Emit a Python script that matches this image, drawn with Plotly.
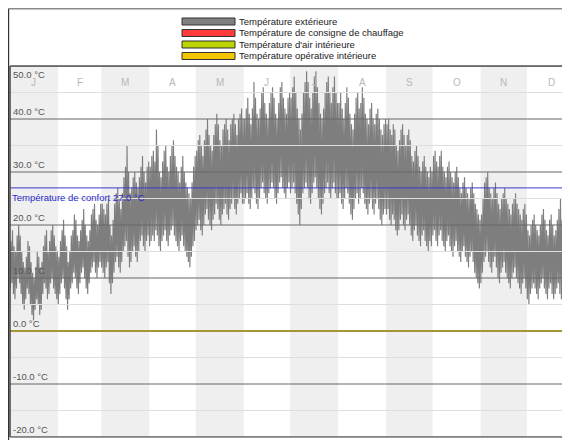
import plotly.graph_objects as go

# ---------------- data ----------------
months = ["J", "F", "M", "A", "M", "J", "J", "A", "S", "O", "N", "D"]
month_days = [31, 28, 31, 30, 31, 30, 31, 31, 30, 31, 30, 31]

legend_names = ["Température extérieure", "Température de consigne de chauffage",
                "Température d'air intérieure", "Température opérative intérieure"]
legend_colors = ["#808080", "#ff3b3b", "#bcd400", "#f5c400"]

y_ticks = [50, 40, 30, 20, 10, 0, -10, -20]
y_minor = [45, 35, 25, 15, 5, -5, -15]
comfort_temp = 27.0

# daily minimum / maximum outdoor temperature, month by month
tmin_months = [
    [8, 9, 7, 6, 8, 10, 9, 7, 5, 4, 6, 8, 7, 5, 3, 2, 4, 6, 5, 3, 4, 7, 9, 8, 6, 7, 9, 10, 8, 7, 6],
    [5, 7, 9, 10, 8, 6, 4, 6, 8, 9, 11, 10, 8, 7, 9, 11, 12, 10, 8, 7, 9, 11, 12, 13, 11, 10, 12, 13],
    [12, 11, 10, 12, 13, 9, 7, 9, 11, 13, 14, 12, 11, 13, 15, 16, 17, 14, 12, 13, 15, 16, 14, 13, 15, 17, 18, 16, 15, 17, 18],
    [16, 17, 18, 17, 19, 18, 16, 15, 17, 18, 19, 17, 16, 18, 19, 20, 18, 17, 16, 15, 17, 18, 16, 15, 14, 13, 12, 14, 16, 17],
    [19, 20, 21, 19, 18, 20, 22, 23, 21, 20, 19, 21, 22, 24, 23, 21, 20, 22, 23, 24, 22, 21, 23, 24, 25, 23, 22, 24, 25, 26, 24],
    [24, 25, 26, 24, 23, 25, 27, 26, 24, 23, 25, 27, 28, 26, 25, 24, 26, 27, 28, 27, 25, 24, 26, 28, 29, 27, 26, 25, 27, 28],
    [26, 27, 28, 26, 24, 22, 20, 23, 26, 27, 28, 27, 25, 24, 26, 28, 29, 27, 25, 23, 22, 24, 26, 27, 28, 26, 25, 27, 28, 26, 25],
    [25, 26, 24, 23, 25, 27, 26, 24, 22, 21, 23, 25, 26, 24, 25, 27, 26, 24, 23, 22, 24, 25, 23, 22, 24, 25, 23, 21, 20, 22, 23],
    [22, 23, 21, 20, 22, 21, 19, 18, 19, 21, 22, 20, 19, 21, 22, 20, 18, 17, 19, 20, 18, 17, 16, 18, 19, 17, 16, 15, 17, 16],
    [18, 19, 17, 16, 18, 19, 17, 16, 15, 17, 18, 16, 15, 14, 16, 17, 15, 14, 13, 15, 16, 14, 13, 12, 14, 15, 13, 11, 10, 9, 8],
    [9, 11, 13, 14, 15, 13, 12, 11, 13, 14, 12, 10, 9, 11, 12, 13, 11, 10, 9, 8, 10, 11, 12, 10, 9, 8, 7, 9, 10, 8],
    [6, 5, 7, 8, 9, 8, 7, 6, 8, 9, 10, 8, 7, 6, 8, 9, 7, 6, 7, 8, 9, 7, 6, 5, 4, 3, 5, 6, 7, 6, 5],
]
tmax_months = [
    [17, 19, 16, 15, 18, 20, 18, 15, 13, 12, 14, 17, 16, 13, 11, 10, 12, 15, 14, 12, 13, 16, 18, 19, 15, 17, 19, 20, 18, 16, 15],
    [14, 17, 19, 21, 18, 16, 13, 15, 18, 19, 22, 21, 18, 17, 19, 21, 23, 20, 18, 17, 19, 22, 23, 24, 21, 20, 22, 24],
    [24, 23, 22, 24, 25, 20, 18, 21, 24, 26, 27, 25, 23, 26, 29, 31, 35, 30, 26, 27, 29, 30, 28, 27, 29, 31, 33, 30, 28, 31, 32],
    [31, 33, 34, 32, 38, 35, 30, 29, 32, 34, 35, 31, 30, 33, 35, 36, 33, 31, 30, 28, 31, 33, 30, 28, 27, 26, 25, 28, 31, 33],
    [34, 36, 37, 35, 33, 36, 38, 40, 37, 35, 34, 37, 39, 41, 39, 36, 35, 38, 39, 40, 38, 36, 39, 40, 41, 39, 37, 40, 41, 42, 40],
    [40, 42, 44, 41, 39, 42, 47, 44, 41, 40, 42, 45, 46, 43, 41, 40, 43, 45, 46, 44, 41, 40, 43, 46, 47, 44, 42, 41, 44, 45],
    [44, 46, 48, 45, 42, 40, 38, 41, 45, 47, 49, 47, 44, 42, 45, 48, 49, 46, 43, 41, 40, 42, 45, 47, 48, 45, 43, 46, 48, 45, 43],
    [43, 45, 42, 40, 43, 46, 44, 41, 39, 38, 41, 44, 45, 42, 43, 46, 44, 41, 40, 39, 42, 43, 40, 39, 41, 42, 40, 38, 37, 39, 40],
    [39, 40, 38, 37, 39, 38, 35, 34, 36, 38, 39, 37, 35, 37, 38, 36, 33, 32, 34, 35, 33, 31, 30, 32, 33, 31, 30, 29, 31, 30],
    [33, 34, 32, 31, 33, 34, 31, 30, 29, 31, 32, 30, 29, 28, 30, 31, 29, 27, 26, 28, 29, 27, 26, 25, 27, 28, 26, 24, 23, 22, 21],
    [22, 25, 28, 29, 30, 27, 26, 25, 27, 28, 26, 24, 23, 25, 26, 27, 25, 24, 23, 22, 24, 25, 26, 24, 23, 22, 21, 23, 24, 22],
    [19, 18, 20, 21, 22, 20, 19, 18, 20, 22, 23, 21, 19, 18, 21, 22, 20, 18, 19, 21, 23, 25, 21, 18, 17, 16, 18, 19, 20, 19, 18],
]

# indoor series (flat at 0 °C over the year)
indoor_days = [0, 365]
setpoint_temp = [0.0, 0.0]
air_temp = [0.0, 0.0]
operative_temp = [0.0, 0.0]

# ---------------- build ----------------
tmin = [v for m in tmin_months for v in m]
tmax = [v for m in tmax_months for v in m]
xs, ys = [], []
for d, (lo, hi) in enumerate(zip(tmin, tmax)):
    xs += [d + 0.2, d + 0.6]
    ys += [lo, hi]

# page has an 8px body margin: figure covers page x 8..570, y 8..440
OFF = 8
W, H = 570 - OFF, 440 - OFF
PL, PR, PT, PB = 10, 570, 66, 437          # plot area in page pixels
L, T = PL - OFF, PT - OFF
R, B = (570 - PR), (440 - PB)
pw, ph = PR - PL, PB - PT


def px(x):
    return (x - PL) / pw


def py(y):
    return (PB - y) / ph


FONT = "Liberation Sans"

fig = go.Figure()
fig.add_trace(go.Scatter(x=xs, y=ys, mode="lines", line=dict(color="#7e7e7e", width=1.15),
                         hoverinfo="skip", showlegend=False))
fig.add_trace(go.Scatter(x=indoor_days, y=setpoint_temp, mode="lines",
                         line=dict(color=legend_colors[1], width=1), showlegend=False))
fig.add_trace(go.Scatter(x=indoor_days, y=air_temp, mode="lines",
                         line=dict(color="#b0a000", width=2.2), showlegend=False))
fig.add_trace(go.Scatter(x=indoor_days, y=operative_temp, mode="lines",
                         line=dict(color="#f6d400", width=1.4), showlegend=False))

shapes = []
annotations = []

# month bands + labels
start = 0
for i, (m, n) in enumerate(zip(months, month_days)):
    if i % 2 == 0:
        shapes.append(dict(type="rect", xref="x", yref="paper", x0=start, x1=start + n,
                           y0=0, y1=1, fillcolor="#efefef", line=dict(width=0), layer="below"))
    annotations.append(dict(x=start + n / 2, y=py(75), xref="x", yref="paper", text=m,
                            showarrow=False, font=dict(family=FONT, size=10, color="#b8b8b8")))
    start += n

# gridlines
for v in y_minor:
    shapes.append(dict(type="line", xref="paper", yref="y", x0=0, x1=1, y0=v, y1=v,
                       line=dict(color="#dedede", width=1), layer="above"))
for v in y_ticks:
    shapes.append(dict(type="line", xref="paper", yref="y", x0=0, x1=1, y0=v, y1=v,
                       line=dict(color="#666666", width=1), layer="above"))
    annotations.append(dict(x=px(11), y=v, xref="paper", yref="y", text=f"{v:.1f} °C",
                            xanchor="left", yanchor="top" if v == 50 else "bottom",
                            yshift=-1 if v == 50 else 0, showarrow=False,
                            font=dict(family=FONT, size=9.5, color="#555555")))

# comfort line
shapes.append(dict(type="line", xref="paper", yref="y", x0=0, x1=1, y0=comfort_temp, y1=comfort_temp,
                   line=dict(color="#3b3bd0", width=1), layer="above"))
annotations.append(dict(x=px(10), y=comfort_temp, xref="paper", yref="y",
                        text=f"Température de confort {comfort_temp:.1f} °C",
                        xanchor="left", yanchor="top", yshift=-2, showarrow=False,
                        font=dict(family=FONT, size=9.5, color="#2a2acc")))

# plot borders
shapes.append(dict(type="line", xref="paper", yref="paper", x0=0, x1=0, y0=0, y1=1,
                   line=dict(color="#444444", width=1.5), layer="above"))
shapes.append(dict(type="line", xref="paper", yref="paper", x0=0, x1=1, y0=1, y1=1,
                   line=dict(color="#555555", width=1.5), layer="above"))
shapes.append(dict(type="line", xref="paper", yref="paper", x0=0, x1=1, y0=0, y1=0,
                   line=dict(color="#777777", width=1.5), layer="above"))

# outer frame
shapes.append(dict(type="line", xref="paper", yref="paper", x0=px(8.6), x1=px(8.6), y0=py(440), y1=py(8.6),
                   line=dict(color="#333333", width=1.2)))
shapes.append(dict(type="line", xref="paper", yref="paper", x0=px(8.6), x1=px(570), y0=py(8.8), y1=py(8.8),
                   line=dict(color="#8a8a8a", width=1.5)))

# custom legend
row_y = [21.5, 33, 44.5, 56]
for name, col, yc in zip(legend_names, legend_colors, row_y):
    shapes.append(dict(type="rect", xref="paper", yref="paper", x0=px(182), x1=px(235),
                       y0=py(yc + 3.5), y1=py(yc - 3.5), fillcolor=col,
                       line=dict(color="#333333", width=1)))
    annotations.append(dict(x=px(237), y=py(yc), xref="paper", yref="paper", text=name,
                            xanchor="left", yanchor="middle", showarrow=False,
                            font=dict(family=FONT, size=9.5, color="#222222")))

fig.update_layout(
    width=W, height=H,
    margin=dict(l=L, r=R, t=T, b=B),
    paper_bgcolor="white", plot_bgcolor="white",
    xaxis=dict(range=[0, pw / 1.548], visible=False, fixedrange=True),
    yaxis=dict(range=[-20, 50], visible=False, fixedrange=True),
    shapes=shapes, annotations=annotations,
    showlegend=False,
)
fig.write_html("out.html", config={"displayModeBar": False})
